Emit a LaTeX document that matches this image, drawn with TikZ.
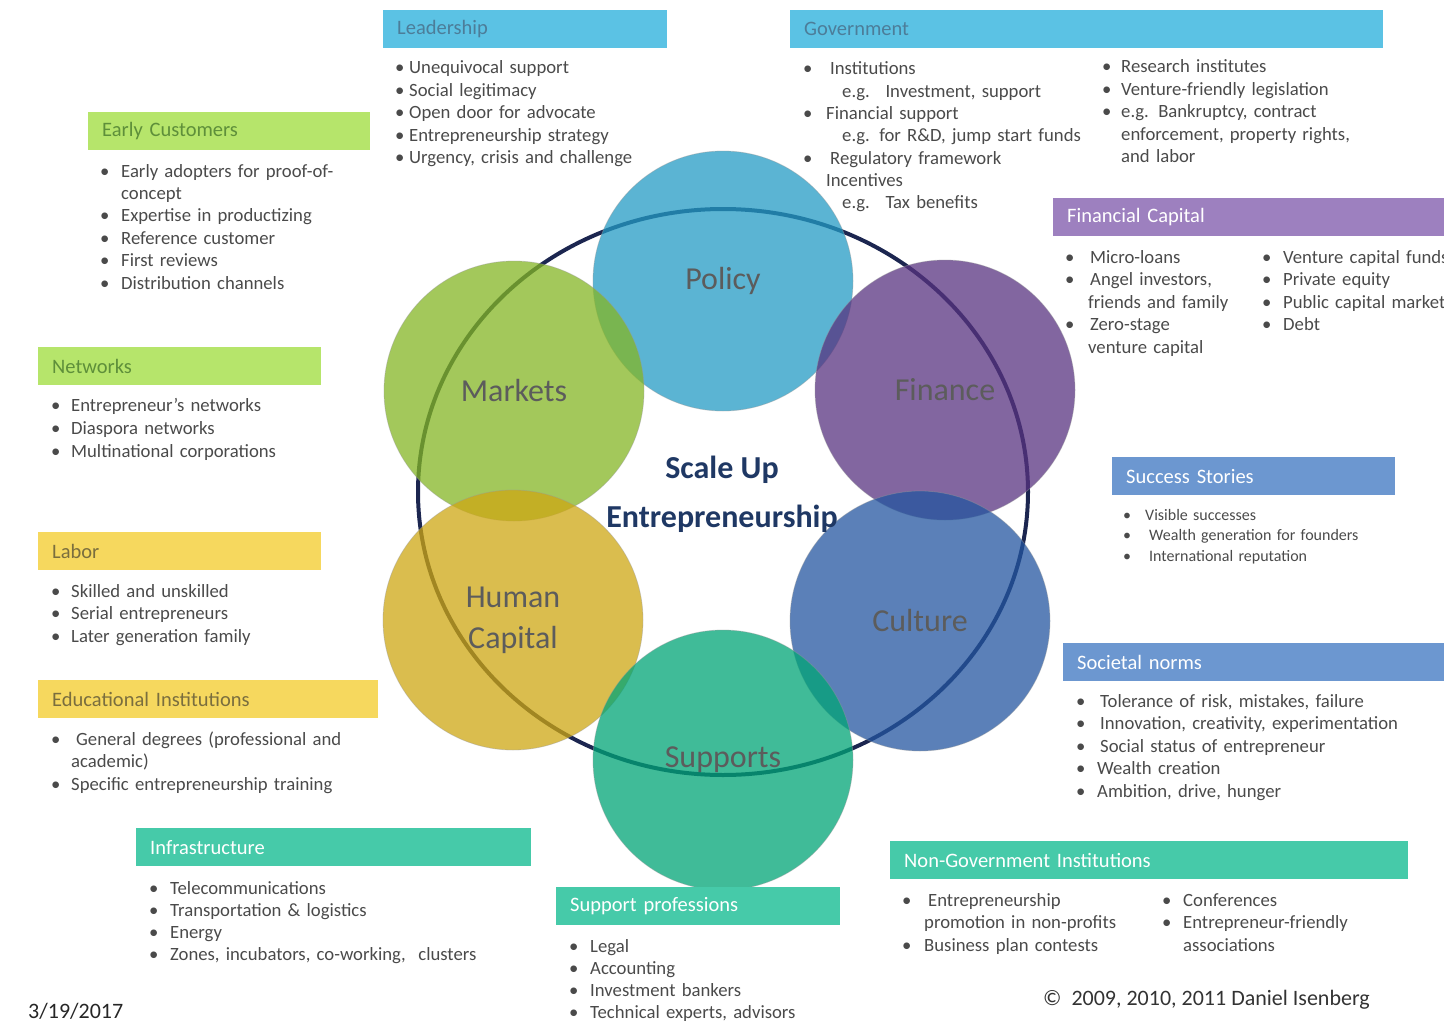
\documentclass[tikz,border=0pt]{standalone}
\usepackage{fontspec}
\setmainfont{Carlito}
\usetikzlibrary{shapes.geometric}

\definecolor{hdrBlue}{RGB}{91,194,228}
\definecolor{hdrGreen}{RGB}{182,229,107}
\definecolor{hdrYellow}{RGB}{246,216,94}
\definecolor{hdrTeal}{RGB}{70,202,169}
\definecolor{hdrPurple}{RGB}{157,128,191}
\definecolor{hdrSteel}{RGB}{108,151,208}
\definecolor{txtBlue}{RGB}{76,125,153}
\definecolor{txtGreen}{RGB}{94,143,58}
\definecolor{txtOlive}{RGB}{122,110,62}
\definecolor{txtGray}{RGB}{74,74,74}
\definecolor{lblGray}{RGB}{92,92,92}
\definecolor{ringNavy}{RGB}{28,38,80}
\definecolor{coreNavy}{RGB}{31,56,100}
\definecolor{cPolicy}{RGB}{36,155,196}
\definecolor{cMarkets}{RGB}{132,182,36}
\definecolor{cFinance}{RGB}{88,51,128}
\definecolor{cCulture}{RGB}{36,86,160}
\definecolor{cSupports}{RGB}{0,164,118}
\definecolor{cHuman}{RGB}{206,167,19}

\newcommand\bul[1]{\makebox[#1pt][l]{•}}

\tikzset{
  hdr/.style={anchor=north west, minimum height=38pt, inner xsep=14pt, inner ysep=0pt,
    align=left, text=white, font=\fontsize{20.5}{24}\selectfont},
  lst/.style={anchor=base west, inner sep=0pt, align=left, text width=400pt, text=txtGray,
    font=\fontsize{18.7}{#1}\selectfont},
  lst/.default=22.5,
  bub/.style={ellipse, minimum width=260pt, minimum height=260pt, inner sep=0pt,
    fill opacity=0.75, text opacity=1, draw=black!40, draw opacity=0.4, line width=0.8pt,
    text=lblGray, align=center, font=\fontsize{32}{41}\selectfont},
}

\begin{document}
\begin{tikzpicture}[x=1pt, y=-1pt]
\useasboundingbox (0,0) rectangle (1444,1025);
\clip (0,0) rectangle (1444,1025);

% ring behind the six circles
\node[ellipse, draw=ringNavy, line width=4pt, minimum width=610pt, minimum height=566pt,
  inner sep=0pt] (ring) at (723,492) {};

\node[bub, fill=cPolicy] (policy) at (723,281) {Policy};
\node[bub, fill=cMarkets] (markets) at (514,391) {Markets};
\node[bub, fill=cFinance] (finance) at (945,390) {Finance};
\node[bub, fill=cHuman] (human) at (513,620) {Human\\Capital};
\node[bub, fill=cCulture] (culture) at (920,621) {Culture};
\node[bub, fill=cSupports] (supports) at (723,760) {Supports};

\node[align=center, text=coreNavy, font=\fontsize{32}{49}\selectfont\bfseries] (core)
  at (722,494) {Scale Up\\Entrepreneurship};

% headers
\node[hdr, fill=hdrBlue, text=txtBlue, text width=256pt] (lead) at (383,10) {Leadership};
\node[hdr, fill=hdrBlue, text=txtBlue, text width=565pt] (gov) at (790,10) {Government};
\node[hdr, fill=hdrGreen, text=txtGreen, text width=254pt] (early) at (88,112) {Early Customers};
\node[hdr, fill=hdrGreen, text=txtGreen, text width=255pt] (netw) at (38,347) {Networks};
\node[hdr, fill=hdrYellow, text=txtOlive, text width=255pt] (labor) at (38,532) {Labor};
\node[hdr, fill=hdrYellow, text=txtOlive, text width=312pt] (edu) at (38,680) {Educational Institutions};
\node[hdr, fill=hdrTeal, text width=367pt] (infra) at (136,828) {Infrastructure};
\node[hdr, fill=hdrTeal, text width=256pt] (supp) at (556,887) {Support professions};
\node[hdr, fill=hdrTeal, text width=490pt] (ngo) at (890,841) {Non-Government Institutions};
\node[hdr, fill=hdrPurple, text width=372pt] (fincap) at (1053,198) {Financial Capital};
\node[hdr, fill=hdrSteel, text width=255pt] (succ) at (1112,457) {Success Stories};
\node[hdr, fill=hdrSteel, text width=362pt] (soc) at (1063,643) {Societal norms};

% lists
\node[lst] (leadL) at (395,74) {\bul{14}Unequivocal support\\\bul{14}Social legitimacy\\
  \bul{14}Open door for advocate\\\bul{14}Entrepreneurship strategy\\
  \bul{14}Urgency, crisis and challenge};
\node[lst=22.3] (govA) at (803,75) {\bul{27}Institutions\\
  \hspace*{39pt}e.g.~ Investment, support\\
  \bul{23}Financial support\\
  \hspace*{39pt}e.g. for R\&D, jump start funds\\
  \bul{27}Regulatory framework\\
  \hspace*{23pt}Incentives\\
  \hspace*{39pt}e.g.~ Tax benefits};
\node[lst] (govB) at (1102,73) {\bul{19}Research institutes\\
  \bul{19}Venture-friendly legislation\\
  \bul{19}e.g. Bankruptcy, contract\\
  \hspace*{19pt}enforcement, property rights,\\
  \hspace*{19pt}and labor};
\node[lst=22.4] (earlyL) at (100,177) {\bul{21}Early adopters for proof-of-\\
  \hspace*{21pt}concept\\\bul{21}Expertise in productizing\\\bul{21}Reference customer\\
  \bul{21}First reviews\\\bul{21}Distribution channels};
\node[lst=23] (netwL) at (51,411) {\bul{20}Entrepreneur's networks\\\bul{20}Diaspora networks\\
  \bul{20}Multinational corporations};
\node[lst] (laborL) at (51,597) {\bul{20}Skilled and unskilled\\\bul{20}Serial entrepreneurs\\
  \bul{20}Later generation family};
\node[lst] (eduL) at (51,745) {\bul{25}General degrees (professional and\\
  \hspace*{20pt}academic)\\\bul{20}Specific entrepreneurship training};
\node[lst=22] (infraL) at (149,894) {\bul{21}Telecommunications\\\bul{21}Transportation \& logistics\\
  \bul{21}Energy\\\bul{21}Zones, incubators, co-working,~ clusters};
\node[lst=22] (suppL) at (569,952) {\bul{21}Legal\\\bul{21}Accounting\\
  \bul{21}Investment bankers\\\bul{21}Technical experts, advisors};
\node[lst] (ngoA) at (902,906) {\bul{26}Entrepreneurship\\
  \hspace*{22pt}promotion in non-profits\\\bul{22}Business plan contests};
\node[lst] (ngoB) at (1162,906) {\bul{21}Conferences\\\bul{21}Entrepreneur-friendly\\
  \hspace*{21pt}associations};
\node[lst] (finA) at (1065,263) {\bul{25}Micro-loans\\\bul{25}Angel investors,\\
  \hspace*{23pt}friends and family\\\bul{25}Zero-stage\\\hspace*{23pt}venture capital};
\node[lst] (finB) at (1262,263) {\bul{21}Venture capital funds\\\bul{21}Private equity\\
  \bul{21}Public capital markets\\\bul{21}Debt};
\node[lst, font=\fontsize{16}{20.5}\selectfont] (succL) at (1123,520) {\bul{22}Visible successes\\
  \bul{26}Wealth generation for founders\\\bul{26}International reputation};
\node[lst] (socL) at (1076,707) {\bul{24}Tolerance of risk, mistakes, failure\\
  \bul{24}Innovation, creativity, experimentation\\\bul{24}Social status of entrepreneur\\
  \bul{21}Wealth creation\\\bul{21}Ambition, drive, hunger};

% footer
\node[anchor=base west, inner sep=0pt, text=black!85, font=\fontsize{22}{26}\selectfont]
  (date) at (28,1018) {3/19/2017};
\node[anchor=base west, inner sep=0pt, text=black!80, font=\fontsize{22}{26}\selectfont]
  (copy) at (1043,1005) {©~ 2009, 2010, 2011 Daniel Isenberg};
\end{tikzpicture}
\end{document}
